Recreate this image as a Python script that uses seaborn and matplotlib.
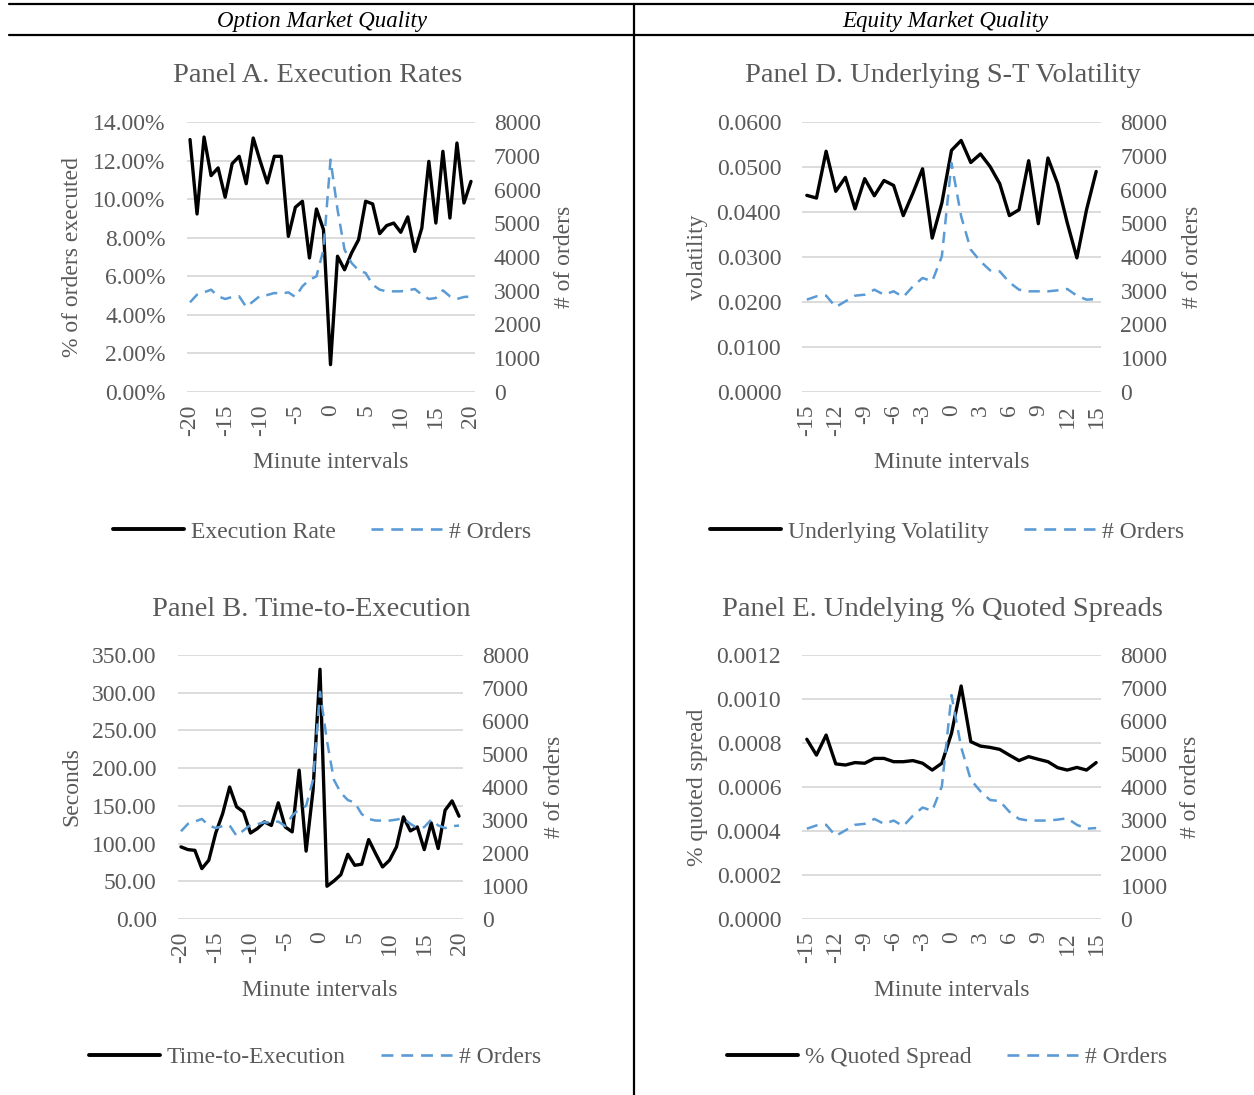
import numpy as np
import matplotlib
matplotlib.use('Agg')
import matplotlib.pyplot as plt
from matplotlib.lines import Line2D
from matplotlib.ticker import FuncFormatter, MultipleLocator
import seaborn as sns

W, H = 1254, 1095
GRAY = '#595959'
GRID = '#d9d9d9'
BLUE = '#5B9BD5'

# minute intervals (categories)
minutes_20 = np.arange(-20, 21)
minutes_15 = np.arange(-15, 16)

# number of orders (secondary axis), event window +-20 and +-15
orders_20 = [2657, 2884, 2953, 3032, 2835, 2756, 2815, 2835, 2518, 2686,
             2854, 2874, 2933, 2914, 2953, 2815, 3131, 3328, 3427, 4217,
             6884, 5402, 4217, 3822, 3605, 3526, 3180, 3032, 2983, 2983,
             2983, 3012, 3052, 2884, 2756, 2785, 3012, 2835, 2756, 2815, 2830]
orders_15 = [2736, 2835, 2854, 2518, 2686, 2854, 2884, 3032, 2884, 2983,
             2815, 3131, 3378, 3279, 4020, 6785, 5205, 4217, 3872, 3605,
             3575, 3249, 3032, 2983, 2983, 2983, 3012, 3052, 2854, 2736, 2756]

# Panel A: execution rate (fraction)
exec_rate = [13.09, 9.23, 13.22, 11.22, 11.62, 10.10, 11.84, 12.22, 10.80, 13.17,
             11.96, 10.84, 12.22, 12.22, 8.07, 9.58, 9.89, 6.95, 9.49, 8.42,
             1.42, 7.04, 6.34, 7.21, 7.90, 9.89, 9.75, 8.21, 8.63, 8.76,
             8.28, 9.08, 7.29, 8.50, 11.96, 8.76, 12.48, 9.02, 12.91, 9.80, 10.92]
exec_rate = [v / 100 for v in exec_rate]

# Panel B: time to execution (seconds)
time_to_exec = [95.6, 92.0, 91.0, 66.8, 77.9, 114.0, 139.8, 175.0, 148.7, 142.0,
                114.0, 120.0, 128.8, 124.0, 154.0, 122.0, 115.5, 197.3, 90.0, 170.8,
                331.0, 43.4, 50.4, 58.8, 85.8, 71.2, 72.6, 105.3, 86.7, 69.0,
                77.9, 95.6, 135.4, 116.8, 122.0, 92.0, 127.4, 93.4, 144.2, 156.6, 136.3]

# Panel D: underlying short-term volatility
volatility = [0.0437, 0.0431, 0.0535, 0.0446, 0.0477, 0.0407, 0.0474, 0.0436, 0.0470, 0.0459,
              0.0392, 0.0442, 0.0496, 0.0342, 0.0420, 0.0537, 0.0559, 0.0510, 0.0529, 0.0501,
              0.0463, 0.0392, 0.0405, 0.0514, 0.0374, 0.0520, 0.0463, 0.0376, 0.0298, 0.0405, 0.0490]

# Panel E: underlying % quoted spread
quoted_spread = [0.000817, 0.000745, 0.000836, 0.000705, 0.000700, 0.000711, 0.000708, 0.000730,
                 0.000730, 0.000715, 0.000715, 0.000720, 0.000708, 0.000677, 0.000708, 0.000844,
                 0.001059, 0.000806, 0.000786, 0.000780, 0.000771, 0.000745, 0.000720, 0.000738,
                 0.000726, 0.000715, 0.000688, 0.000677, 0.000689, 0.000677, 0.000711]

sns.set_style('white')
plt.rcParams['font.family'] = ['Liberation Serif', 'DejaVu Serif']
plt.rcParams['axes.unicode_minus'] = False
plt.rcParams['text.color'] = GRAY
plt.rcParams['axes.labelcolor'] = GRAY
plt.rcParams['xtick.color'] = GRAY
plt.rcParams['ytick.color'] = GRAY

fig = plt.figure(figsize=(W / 100, H / 100), dpi=100)


def fx(px):
    return px / W


def fy(py):
    return 1 - py / H


def panel(box, minutes, values, orders, step, ymax, ystep, fmt,
          ylab, ylab_x, olab_x, title, title_x, series, leg_x, leg_y):
    l, r, t, b = box
    ax = fig.add_axes([fx(l), fy(b), fx(r) - fx(l), fy(t) - fy(b)])
    sns.lineplot(x=minutes, y=values, ax=ax, color='black', lw=2.4, legend=False)
    ax.set_xlim(minutes[0] - 0.5, minutes[-1] + 0.5)
    ax.set_ylim(0, ymax)
    ax.yaxis.set_major_locator(MultipleLocator(ystep))
    ax.yaxis.set_major_formatter(FuncFormatter(fmt))
    ax.set_xticks(np.arange(minutes[0], minutes[-1] + 1, step))
    ax.yaxis.grid(True, color=GRID, lw=1.3)
    ax.set_axisbelow(True)
    ax.tick_params(axis='y', length=0, pad=15, labelsize=17)
    ax.tick_params(axis='x', length=0, pad=9, labelsize=17, rotation=90)
    for s in ax.spines.values():
        s.set_visible(False)
    ax.set_xlabel('Minute intervals', fontsize=17)
    ax.xaxis.set_label_coords(0.5, -71 / (b - t))
    ax.xaxis.label.set_va('center')
    ax.set_ylabel(ylab, fontsize=17)
    ax.yaxis.set_label_coords((ylab_x - l) / (r - l), 0.5)
    ax.yaxis.label.set_va('center')

    ax2 = ax.twinx()
    sns.lineplot(x=minutes, y=orders, ax=ax2, color=BLUE, lw=1.8, legend=False)
    ax2.lines[-1].set_dashes([4.5, 3])
    ax2.set_ylim(0, 8000)
    ax2.yaxis.set_major_locator(MultipleLocator(1000))
    ax2.grid(False)
    ax2.tick_params(axis='y', length=0, pad=14, labelsize=17)
    for s in ax2.spines.values():
        s.set_visible(False)
    ax2.set_ylabel('# of orders', fontsize=17)
    ax2.yaxis.set_label_coords((olab_x - l) / (r - l), 0.5)
    ax2.yaxis.label.set_va('center')

    fig.text(fx(title_x), fy(t - 46), title, fontsize=20.5, ha='center', va='center', color=GRAY)
    handles = [Line2D([], [], color='black', lw=2.8),
               Line2D([], [], color=BLUE, lw=1.9, dashes=[4.5, 3])]
    fig.legend(handles, [series, '# Orders'], loc='center', ncol=2,
               bbox_to_anchor=(fx(leg_x), fy(leg_y)), frameon=False, fontsize=17,
               handlelength=3.0, handletextpad=0.3, columnspacing=1.5)
    return ax


panel((186.5, 474.5, 122, 392), minutes_20, exec_rate, orders_20, 5, 0.14, 0.02,
      lambda v, p: f'{v * 100:.2f}%', '% of orders executed', 72, 565,
      'Panel A. Execution Rates', 317.5, 'Execution Rate', 322, 532)
panel((177.5, 462.5, 655, 919), minutes_20, time_to_exec, orders_20, 5, 350, 50,
      lambda v, p: f'{v:.2f}', 'Seconds', 72, 555,
      'Panel B. Time-to-Execution', 311, 'Time-to-Execution', 315, 1057)
panel((802, 1101, 122, 392), minutes_15, volatility, orders_15, 3, 0.06, 0.01,
      lambda v, p: f'{v:.4f}', 'volatility', 698, 1192,
      'Panel D. Underlying S-T Volatility', 943, 'Underlying Volatility', 947, 532)
panel((802, 1101, 655, 919), minutes_15, quoted_spread, orders_15, 3, 0.0012, 0.0002,
      lambda v, p: f'{v:.4f}', '% quoted spread', 697, 1190,
      'Panel E. Undelying % Quoted Spreads', 942.5, '% Quoted Spread', 947, 1057)

# table-like frame
fig.add_artist(Line2D([fx(9), 1], [fy(4), fy(4)], color='black', lw=1.6))
fig.add_artist(Line2D([fx(9), 1], [fy(35), fy(35)], color='black', lw=1.6))
fig.add_artist(Line2D([fx(634), fx(634)], [fy(4), 0], color='black', lw=1.6))
fig.text(fx(322), fy(21.5), 'Option Market Quality', fontsize=16.5, style='italic',
         ha='center', va='center', color='black')
fig.text(fx(945), fy(21.5), 'Equity Market Quality', fontsize=16.5, style='italic',
         ha='center', va='center', color='black')

fig.savefig('out.png', dpi=100, facecolor='white')
